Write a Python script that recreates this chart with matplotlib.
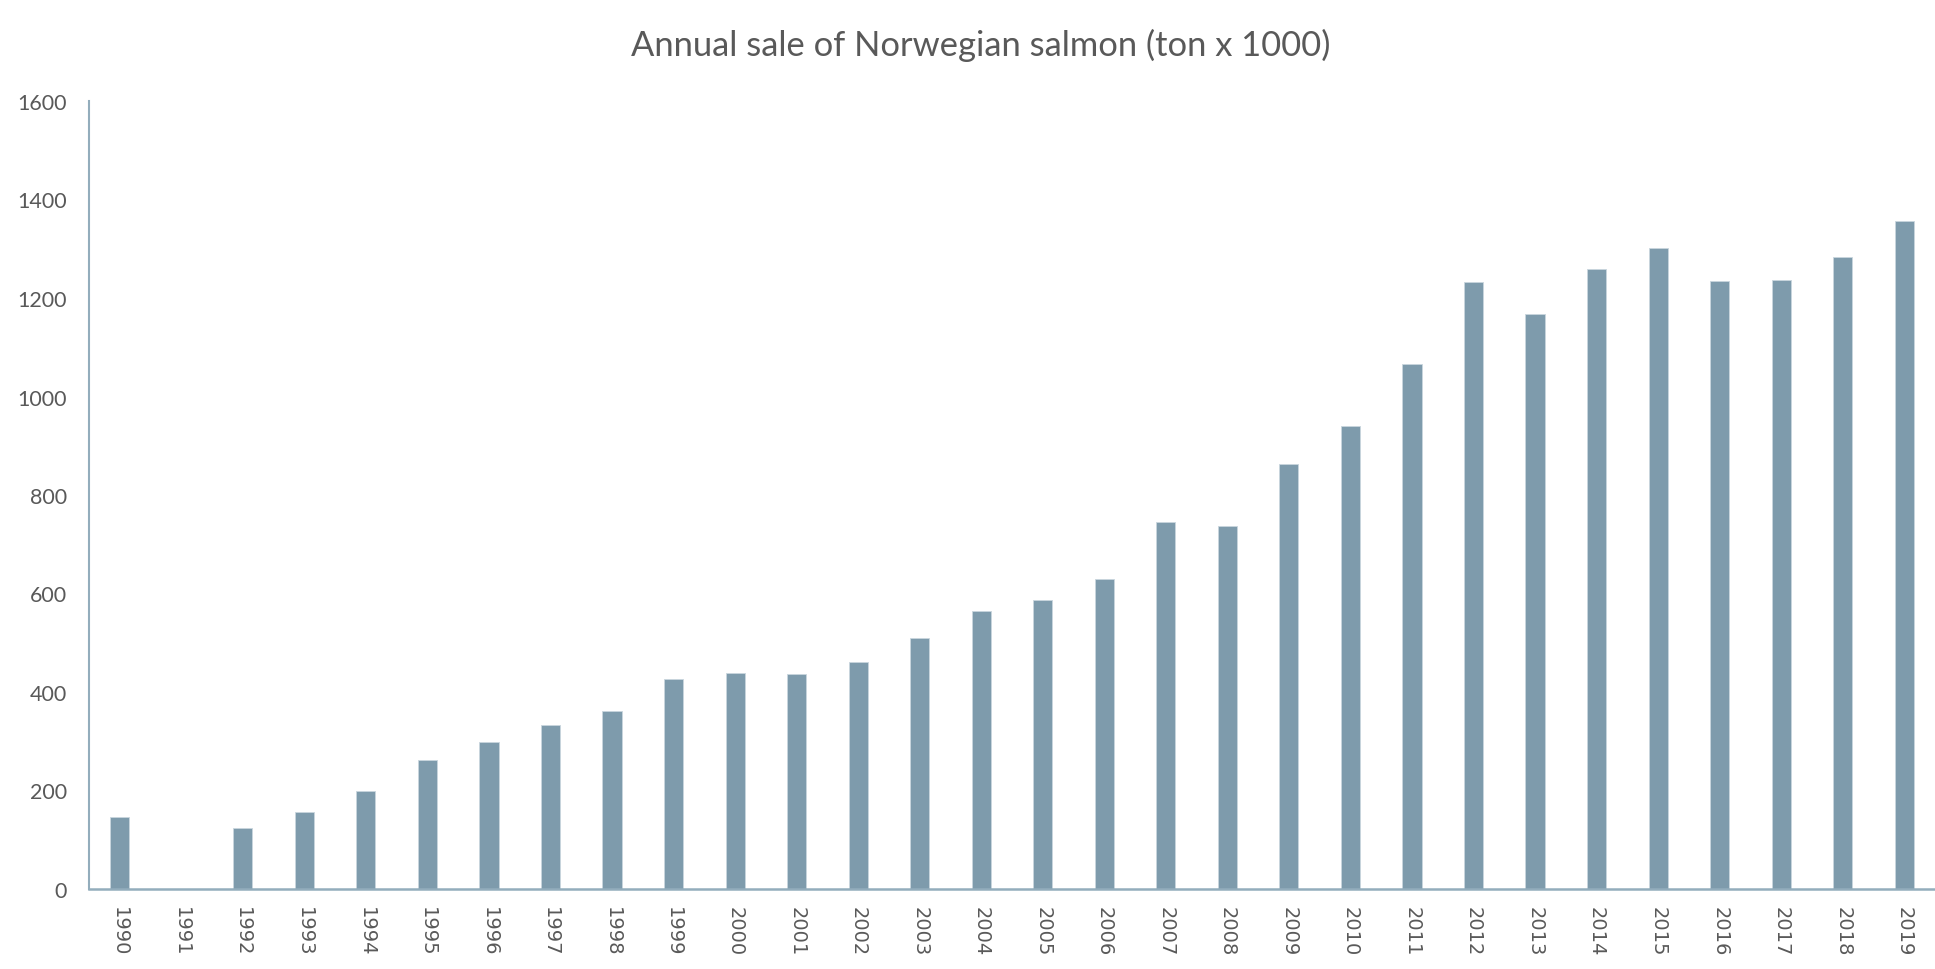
import matplotlib
matplotlib.use("Agg")
import matplotlib.pyplot as plt
import numpy as np

years = [str(y) for y in range(1990, 2020)]
sales = [146, 0, 123, 156, 200, 261, 298, 334, 361, 426,
         439, 436, 461, 509, 564, 587, 629, 745, 737, 863,
         940, 1065, 1232, 1168, 1258, 1302, 1234, 1236, 1283, 1356]
y_ticks = [0, 200, 400, 600, 800, 1000, 1200, 1400, 1600]
title = "Annual sale of Norwegian salmon (ton x 1000)"

bar_color = "#7E9BAC"
axis_color = "#93ADBC"
text_color = "#595959"

W, H = 1935, 970
fig = plt.figure(figsize=(W / 100, H / 100), dpi=100)
ax = fig.add_axes([89 / W, (H - 890) / H, (W - 89) / W, (890 - 102) / H])

x = np.arange(len(years))
ax.bar(x, sales, width=0.31, color=bar_color, edgecolor="#C9D6DE", linewidth=0.6, zorder=2)

ax.set_xlim(-0.5, len(years) - 0.5)
ax.set_ylim(0, 1600)
ax.set_yticks(y_ticks)
ax.set_yticklabels([str(v) for v in y_ticks], fontfamily="Lato", fontsize=15.5, color=text_color)
ax.set_xticks(x)
ax.set_xticklabels(years, rotation=-90, fontfamily="DejaVu Sans", fontsize=14,
                   color=text_color, va="top", ha="center")
ax.tick_params(axis="y", length=0, pad=16)
ax.tick_params(axis="x", length=0, pad=12.5)

for s in ["top", "right"]:
    ax.spines[s].set_visible(False)
ax.spines["left"].set_color(axis_color)
ax.spines["bottom"].set_color(axis_color)
ax.spines["left"].set_linewidth(1.5)
ax.spines["bottom"].set_linewidth(1.8)

fig.text(981 / W, 1 - 56 / H, title, ha="center", va="baseline",
         fontfamily="Lato", fontsize=24.8, color=text_color)

fig.savefig("out.png", dpi=100, facecolor="white")
